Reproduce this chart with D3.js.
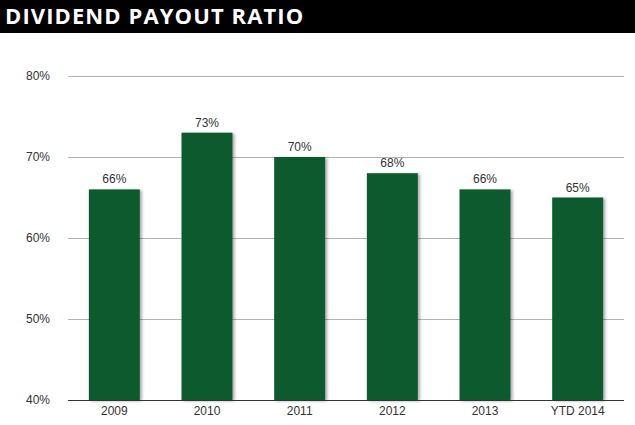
<!DOCTYPE html>
<html><head><meta charset="utf-8">
<script src="https://cdn.jsdelivr.net/npm/d3@7"></script>
<style>body{margin:0;background:#fff;}svg{display:block;}</style>
</head><body>
<script>
const categories = ["2009","2010","2011","2012","2013","YTD 2014"];
const values = [66, 73, 70, 68, 66, 65];
const valueLabels = ["66%","73%","70%","68%","66%","65%"];
const yTicks = [40, 50, 60, 70, 80];
const title = "DIVIDEND PAYOUT RATIO";

const W = 635, H = 425;
const svg = d3.select("body").append("svg").attr("width", W).attr("height", H);

const defs = svg.append("defs");
const f = defs.append("filter").attr("id","sh").attr("x","-20%").attr("y","-20%").attr("width","150%").attr("height","150%");
f.append("feDropShadow").attr("dx",2).attr("dy",1).attr("stdDeviation",1.5).attr("flood-color","#000").attr("flood-opacity",0.35);

svg.append("rect").attr("x",0).attr("y",0).attr("width",W).attr("height",33).attr("fill","#000");
svg.append("text").attr("x",5).attr("y",24).attr("fill","#fff")
  .attr("font-family","'Open Sans', 'DejaVu Sans', sans-serif").attr("font-weight","bold")
  .attr("font-size",22).attr("letter-spacing",1.1).text(title);

const x = d3.scaleBand().domain(categories).range([68, 624]).paddingInner(0.45).paddingOuter(0.225);
const y = d3.scaleLinear().domain([40, 80]).range([400, 76]);

const font = "'Liberation Sans', Arial, sans-serif";

// gridlines
svg.append("g").selectAll("line").data(yTicks.filter(d => d !== 40)).join("line")
  .attr("x1",68).attr("x2",624).attr("y1",d=>y(d)+0.5).attr("y2",d=>y(d)+0.5)
  .attr("stroke","#b3b3b3").attr("stroke-width",1);

// y axis labels
const yAxis = d3.axisLeft(y).tickValues(yTicks).tickFormat(d => d + "%").tickSize(0).tickPadding(0);
const ga = svg.append("g").attr("transform","translate(50,0)").call(yAxis);
ga.select(".domain").remove();
ga.selectAll("text").attr("font-family",font).attr("font-size",12).attr("fill","#333");

// bars
svg.append("g").selectAll("rect").data(values).join("rect")
  .attr("x",(d,i)=>x(categories[i])).attr("width",x.bandwidth())
  .attr("y",d=>y(d)).attr("height",d=>y(40)-y(d))
  .attr("fill","#115a2f").attr("filter","url(#sh)");

// baseline
svg.append("line").attr("x1",68).attr("x2",624).attr("y1",y(40)+0.5).attr("y2",y(40)+0.5)
  .attr("stroke","#333").attr("stroke-width",1.2);

// value labels
svg.append("g").selectAll("text").data(values).join("text")
  .attr("x",(d,i)=>x(categories[i])+x.bandwidth()/2).attr("y",d=>y(d)-6)
  .attr("text-anchor","middle").attr("font-family",font).attr("font-size",12).attr("fill","#333")
  .text((d,i)=>valueLabels[i]);

// x axis labels
const xAxis = d3.axisBottom(x).tickSize(0).tickPadding(0);
const gx = svg.append("g").attr("transform","translate(0,406)").call(xAxis);
gx.select(".domain").remove();
gx.selectAll("text").attr("font-family",font).attr("font-size",12).attr("fill","#333");
</script>
</body></html>
